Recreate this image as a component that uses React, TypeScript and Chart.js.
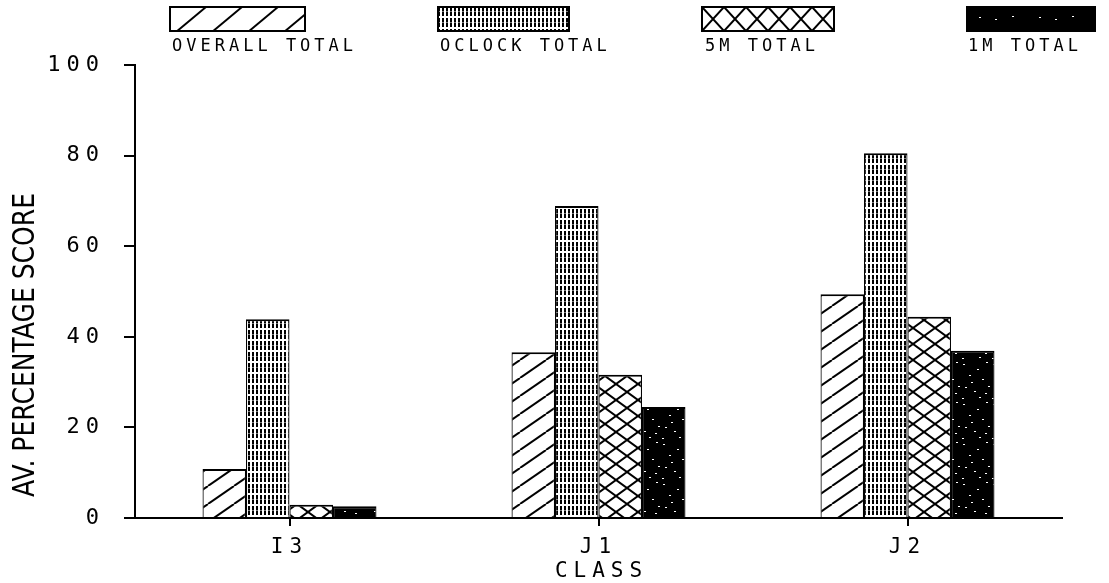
import React, { useEffect, useRef } from 'react';
import { Chart, registerables } from 'chart.js';

Chart.register(...registerables);

const categories = ['I3', 'J1', 'J2'];
const seriesNames = ['OVERALL TOTAL', 'OCLOCK TOTAL', '5M TOTAL', '1M TOTAL'];
const overallTotal = [10.8, 36.6, 49.4];
const oclockTotal = [43.9, 68.9, 80.5];
const fiveMTotal = [2.9, 31.6, 44.4];
const oneMTotal = [2.6, 24.5, 36.9];
const yTickValues = [0, 20, 40, 60, 80, 100];
const yAxisTitle = 'AV. PERCENTAGE SCORE';
const xAxisTitle = 'CLASS';

type Draw = (g: CanvasRenderingContext2D, w: number, h: number) => void;

function makeTile(w: number, h: number, draw: Draw): HTMLCanvasElement {
  const c = document.createElement('canvas');
  c.width = w;
  c.height = h;
  const g = c.getContext('2d') as CanvasRenderingContext2D;
  g.fillStyle = '#fff';
  g.fillRect(0, 0, w, h);
  draw(g, w, h);
  return c;
}

function diagTile(w: number, h: number, lw: number) {
  return makeTile(w, h, (g) => {
    g.strokeStyle = '#000';
    g.lineWidth = lw;
    for (const dx of [-w, 0, w]) {
      g.beginPath();
      g.moveTo(dx, h);
      g.lineTo(dx + w, 0);
      g.stroke();
    }
  });
}

function crossTile(w: number, h: number, lw: number) {
  return makeTile(w, h, (g) => {
    g.strokeStyle = '#000';
    g.lineWidth = lw;
    for (const dx of [-w, 0, w]) {
      for (const dy of [-h, 0, h]) {
        g.beginPath();
        g.moveTo(dx, dy);
        g.lineTo(dx + w, dy + h);
        g.moveTo(dx, dy + h);
        g.lineTo(dx + w, dy);
        g.stroke();
      }
    }
  });
}

function gridTile() {
  return makeTile(4, 11, (g) => {
    g.fillStyle = '#000';
    g.fillRect(0, 0, 2, 9);
    g.fillStyle = '#777';
    g.fillRect(0, 4, 2, 1);
  });
}

const speckleDots = [
  [3, 4], [17, 9], [26, 2], [9, 15], [22, 19], [5, 27], [14, 31], [28, 26], [19, 37], [2, 38], [11, 22], [25, 33],
];

function speckleTile(dots: number[][], w: number, h: number) {
  return makeTile(w, h, (g) => {
    g.fillStyle = '#000';
    g.fillRect(0, 0, w, h);
    g.fillStyle = '#fff';
    for (const [x, y] of dots) g.fillRect(x, y, 2, 1);
  });
}

const PLOT_FONT = '"DejaVu Sans Mono"';

export default function App() {
  const ref = useRef<HTMLCanvasElement | null>(null);

  useEffect(() => {
    const canvas = ref.current;
    if (!canvas) return;
    const ctx = canvas.getContext('2d') as CanvasRenderingContext2D;

    const barPatterns = [
      ctx.createPattern(diagTile(26, 18, 2), 'repeat'),
      ctx.createPattern(gridTile(), 'repeat'),
      ctx.createPattern(crossTile(22, 16, 2), 'repeat'),
      ctx.createPattern(speckleTile(speckleDots, 30, 40), 'repeat'),
    ];
    const legendTiles = [
      diagTile(36, 30, 2),
      gridTile(),
      crossTile(22, 24, 2),
      speckleTile([[12, 10], [28, 12], [45, 9]], 60, 24),
    ];
    const legendBoxes = [
      [170, 7, 135, 24],
      [438, 7, 131, 24],
      [702, 7, 132, 24],
      [967, 7, 128, 24],
    ];
    const legendTextX = [172, 440, 705, 968];

    const textPlugin = {
      id: 'textPlugin',
      beforeDraw(chart: any) {
        (chart.ctx as any).letterSpacing = '6px';
      },
      afterDraw(chart: any) {
        const c: any = chart.ctx;
        c.save();
        c.fillStyle = '#000';
        // Legend
        seriesNames.forEach((name, i) => {
          const [x, y, w, h] = legendBoxes[i];
          const p = c.createPattern(legendTiles[i], 'repeat');
          if (p && p.setTransform) p.setTransform(new DOMMatrix().translate(x, y));
          c.fillStyle = p || '#000';
          c.fillRect(x, y, w, h);
          c.strokeStyle = '#000';
          c.lineWidth = 2;
          c.strokeRect(x, y, w, h);
          c.fillStyle = '#000';
          c.letterSpacing = '4px';
          c.font = `17px ${PLOT_FONT}`;
          c.textAlign = 'left';
          c.textBaseline = 'alphabetic';
          c.fillText(name, legendTextX[i], 51);
        });
        // X title
        c.letterSpacing = '6px';
        c.font = `21px ${PLOT_FONT}`;
        c.textAlign = 'center';
        c.textBaseline = 'alphabetic';
        const ca = chart.chartArea;
        c.fillText(xAxisTitle, (ca.left + ca.right) / 2 + 3, 577);
        // Y title
        c.letterSpacing = '0px';
        c.font = '31px "DejaVu Sans"';
        const w = c.measureText(yAxisTitle).width;
        c.translate(22, 345);
        c.rotate(-Math.PI / 2);
        c.scale(304 / w, 1);
        c.textAlign = 'center';
        c.fillText(yAxisTitle, 0, 11.5);
        c.restore();
      },
    };

    const series = [overallTotal, oclockTotal, fiveMTotal, oneMTotal];
    const chart = new Chart(canvas, {
      type: 'bar',
      data: {
        labels: categories,
        datasets: series.map((d, i) => ({
          label: seriesNames[i],
          data: d,
          backgroundColor: barPatterns[i] as any,
          borderColor: '#000',
          borderWidth: { top: 2, left: 1.2, right: 1.2, bottom: 0 },
          borderSkipped: false as any,
          categoryPercentage: 0.563,
          barPercentage: 1.0,
        })),
      },
      options: {
        animation: false,
        responsive: false,
        layout: { padding: { top: 65, right: 47, left: 0, bottom: 0 } },
        plugins: { legend: { display: false }, tooltip: { enabled: false } },
        scales: {
          x: {
            offset: true,
            grid: {
              display: true,
              drawOnChartArea: false,
              drawTicks: true,
              tickLength: 8,
              color: '#000',
              lineWidth: 2,
              offset: false,
            },
            border: { display: true, color: '#000', width: 2 },
            ticks: { color: '#000', font: { family: 'DejaVu Sans Mono', size: 21 }, padding: 9 },
            afterFit: (s: any) => {
              s.height = 65;
            },
          },
          y: {
            min: 0,
            max: 100,
            afterBuildTicks: (s: any) => {
              s.ticks = yTickValues.map((v) => ({ value: v }));
            },
            grid: {
              display: true,
              drawOnChartArea: false,
              drawTicks: true,
              tickLength: 11,
              color: '#000',
              lineWidth: 2,
            },
            border: { display: true, color: '#000', width: 2 },
            ticks: { color: '#000', font: { family: 'DejaVu Sans Mono', size: 22 }, padding: 19 },
            afterFit: (s: any) => {
              s.width = 135;
            },
          },
        },
      },
      plugins: [textPlugin],
    });
    return () => chart.destroy();
  }, []);

  return (
    <canvas
      ref={ref}
      width={1109}
      height={583}
      style={{ position: 'fixed', left: 0, top: 0, width: 1109, height: 583, display: 'block', background: '#fff' }}
    />
  );
}
